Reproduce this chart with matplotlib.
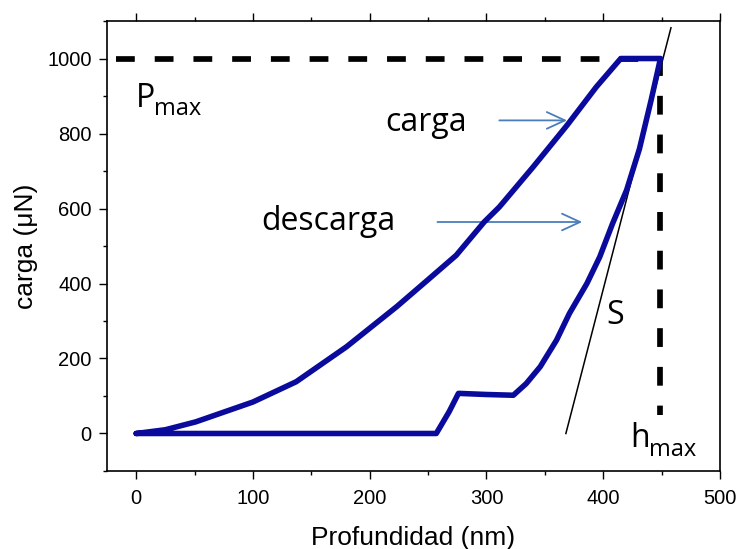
import matplotlib
matplotlib.use("Agg")
import matplotlib.pyplot as plt
import numpy as np
from matplotlib.ticker import MultipleLocator

# ---- data ----
load_x = [0, 25, 51, 100, 137, 180, 223, 251, 274, 298, 311, 340, 369, 394, 415]
load_y = [0, 10, 31, 84, 138, 231, 338, 413, 475, 564, 604, 711, 822, 924, 1000]
hold_x = [415, 449]
hold_y = [1000, 1000]
unload_x = [449, 441, 431, 420, 408, 397, 386, 371, 360, 346, 334, 323, 300, 276, 268, 257, 0]
unload_y = [1000, 889, 759, 649, 560, 471, 400, 320, 249, 178, 133, 102, 104, 107, 58, 0, 0]

s_line_x = [368, 458]
s_line_y = [0, 1082]

p_max = 1000
h_max = 449
ref_start_x = -17
ref_end_y = 50

xticks = [0, 100, 200, 300, 400, 500]
yticks = [0, 200, 400, 600, 800, 1000]

curve_x = load_x + hold_x[1:] + unload_x[1:]
curve_y = load_y + hold_y[1:] + unload_y[1:]

fig = plt.figure(figsize=(7.39, 5.49), dpi=100)
ax = fig.add_axes([0.1448, 0.1421, 0.8295, 0.8196])

# reference dashed lines
ax.plot([ref_start_x, h_max, h_max], [p_max, p_max, ref_end_y], color='black',
        lw=4.1, dashes=(3.3, 3.5), solid_capstyle='butt', zorder=2)

# tangent line
ax.plot(s_line_x, s_line_y, color='black', lw=1.1, zorder=3)

# curve
ax.plot(curve_x, curve_y, color='#0a0a9c', lw=4.0, solid_capstyle='round',
        solid_joinstyle='round', zorder=4)

# arrows
arrow_c = '#4a7ebb'
ax.annotate('', xy=(369, 835), xytext=(311, 835),
            arrowprops=dict(arrowstyle='->,head_length=1.3,head_width=0.6', color=arrow_c,
                            lw=1.3, mutation_scale=10, shrinkA=0, shrinkB=0))
ax.annotate('', xy=(382, 564), xytext=(258, 564),
            arrowprops=dict(arrowstyle='->,head_length=1.3,head_width=0.6', color=arrow_c,
                            lw=1.3, mutation_scale=10, shrinkA=0, shrinkB=0))

tfont = dict(family='Open Sans', fontsize=23, color='black')
sfont = dict(family='Open Sans', fontsize=17, color='black')
ax.text(213, 808, 'carga', ha='left', va='baseline', **tfont)
ax.text(107, 542, 'descarga', ha='left', va='baseline', **tfont)
ax.text(0, 870, 'P', ha='left', va='baseline', **tfont)
ax.text(15.5, 849, 'max', ha='left', va='baseline', **sfont)
ax.text(403, 293, 'S', ha='left', va='baseline', **tfont)
ax.text(423, -36, 'h', ha='left', va='baseline', **tfont)
ax.text(439.5, -60, 'max', ha='left', va='baseline', **sfont)

ax.set_xlim(-25, 500)
ax.set_ylim(-100, 1100)
ax.set_xticks(xticks)
ax.set_yticks(yticks)
ax.xaxis.set_minor_locator(MultipleLocator(50))
ax.yaxis.set_minor_locator(MultipleLocator(100))

ax.tick_params(which='major', direction='out', length=6, width=1.0, top=True, right=False,
               labelsize=14.5, pad=5)
ax.tick_params(axis='x', which='major', pad=7)
ax.tick_params(which='minor', direction='out', length=3, width=1.0, top=True, right=False)
for lab in ax.get_xticklabels() + ax.get_yticklabels():
    lab.set_family('Liberation Sans')
for sp in ax.spines.values():
    sp.set_linewidth(1.2)

ax.set_xlabel('Profundidad (nm)', family='Liberation Sans', fontsize=19, labelpad=13)
ax.set_ylabel('carga (\u03bcN)', family='Liberation Sans', fontsize=19, labelpad=7)

fig.savefig('out.png', dpi=100)
